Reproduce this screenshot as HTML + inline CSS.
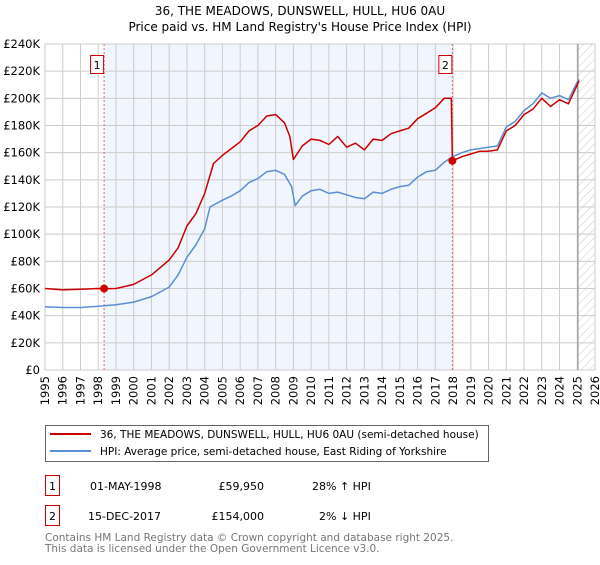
<!DOCTYPE html>
<html><head><meta charset="utf-8"><style>
body{margin:0;background:#fff;font-family:"Liberation Sans","DejaVu Sans",sans-serif}
svg text{font-family:"DejaVu Sans","Liberation Sans",sans-serif}
</style></head><body>
<svg id="chart" width="600" height="560" xmlns="http://www.w3.org/2000/svg">
<defs><pattern id="hatch" width="6" height="6" patternUnits="userSpaceOnUse" patternTransform="rotate(45)"><line x1="0" y1="0" x2="0" y2="6" stroke="#ccc" stroke-width="1"/></pattern></defs>
<text x="300" y="15" text-anchor="middle" font-size="12">36, THE MEADOWS, DUNSWELL, HULL, HU6 0AU</text>
<text x="300" y="31" text-anchor="middle" font-size="12">Price paid vs. HM Land Registry's House Price Index (HPI)</text>
<g id="plot"></g>
<g>
<rect x="45.5" y="425.5" width="443" height="36" fill="#fff" stroke="#666"/>
<line x1="50" y1="434" x2="91" y2="434" stroke="#cc0000" stroke-width="2"/>
<text x="100" y="438" font-size="10.5">36, THE MEADOWS, DUNSWELL, HULL, HU6 0AU (semi-detached house)</text>
<line x1="50" y1="451" x2="91" y2="451" stroke="#5b8fd4" stroke-width="2"/>
<text x="100" y="455" font-size="10.5">HPI: Average price, semi-detached house, East Riding of Yorkshire</text>
</g>
<g font-size="11">
<rect x="45.5" y="475.5" width="14" height="20" fill="#fff" stroke="#cc0000"/>
<text x="52.5" y="490" text-anchor="middle">1</text>
<text x="90" y="490">01-MAY-1998</text>
<text x="264" y="490" text-anchor="end">£59,950</text>
<text x="312" y="490">28% ↑ HPI</text>
</g>
<g font-size="11">
<rect x="45.5" y="505.5" width="14" height="20" fill="#fff" stroke="#cc0000"/>
<text x="52.5" y="520" text-anchor="middle">2</text>
<text x="88" y="520">15-DEC-2017</text>
<text x="264" y="520" text-anchor="end">£154,000</text>
<text x="319" y="520">2% ↓ HPI</text>
</g>
<text x="45" y="541" font-size="10.5" fill="#777">Contains HM Land Registry data © Crown copyright and database right 2025.</text>
<text x="45" y="552" font-size="10.5" fill="#777">This data is licensed under the Open Government Licence v3.0.</text>
</svg>
<script>
const hpiYears=[1995,1996,1997,1998,1999,2000,2001,2002,2002.5,2003,2003.5,2004,2004.3,2005,2005.5,2006,2006.5,2007,2007.5,2008,2008.5,2008.9,2009.1,2009.5,2010,2010.5,2011,2011.5,2012,2012.5,2013,2013.5,2014,2014.5,2015,2015.5,2016,2016.5,2017,2017.5,2017.96,2018.5,2019,2019.5,2020,2020.5,2021,2021.5,2022,2022.5,2023,2023.5,2024,2024.5,2025,2025.1];
const hpiValues=[46.6,46,46,47,48,50,54,61,70,83,92,104,120,125,128,132,138,141,146,147,144,135,121,128,132,133,130,131,129,127,126,131,130,133,135,136,142,146,147,153,157,160,162,163,164,165,179,183,191,196,204,200,202,199,212,214];
const priceYears=[1995,1996,1997,1998,1998.33,1999,2000,2001,2002,2002.5,2003,2003.5,2004,2004.5,2005,2005.5,2006,2006.5,2007,2007.5,2008,2008.5,2008.8,2009,2009.5,2010,2010.5,2011,2011.5,2012,2012.5,2013,2013.5,2014,2014.5,2015,2015.5,2016,2016.5,2017,2017.5,2017.9,2017.96,2018.5,2019,2019.5,2020,2020.5,2021,2021.5,2022,2022.5,2023,2023.5,2024,2024.5,2025,2025.1];
const priceValues=[60,59,59.5,60,59.95,60,63,70,81,90,106,115,130,152,158,163,168,176,180,187,188,182,172,155,165,170,169,166,172,164,167,162,170,169,174,176,178,185,189,193,200,200,154,157,159,161,161,162,176,180,188,192,200,194,199,196,210,213];
const yTicks=[0,20,40,60,80,100,120,140,160,180,200,220,240];
const xTicks=[1995,1996,1997,1998,1999,2000,2001,2002,2003,2004,2005,2006,2007,2008,2009,2010,2011,2012,2013,2014,2015,2016,2017,2018,2019,2020,2021,2022,2023,2024,2025,2026];
const sales=[[1998.33,59.95,'1'],[2017.96,154,'2']];
const X0=45,X1=595,Y0=370,Y1=44;
const xs=y=>X0+(y-1995)/(2026-1995)*(X1-X0);
const ys=v=>Y0-v/240*(Y0-Y1);
const NS='http://www.w3.org/2000/svg';
const g=document.getElementById('plot');
function mk(t,a,p){const e=document.createElementNS(NS,t);for(const k in a)e.setAttribute(k,a[k]);(p||g).appendChild(e);return e;}
let bg=mk('rect',{x:xs(1998.33),y:Y1,width:xs(2017.96)-xs(1998.33),height:Y0-Y1,fill:'#eef3fd',opacity:0.8});


let hz=mk('rect',{x:xs(2025.04),y:Y1,width:X1-xs(2025.04),height:Y0-Y1,fill:'url(#hatch)'});


yTicks.forEach(v=>{
 let l=mk('line',{x1:X0,x2:X1,y1:ys(v),y2:ys(v),stroke:'#ccc'});
 
 
 let t=mk('text',{x:X0-5,y:ys(v)+4,'text-anchor':'end','font-size':11.5});
 
 
 t.textContent='£'+v+(v?'K':'');
});
xTicks.forEach(yr=>{
 let l=mk('line',{x1:xs(yr),x2:xs(yr),y1:Y1,y2:Y0,stroke:'#ccc'});
 
 
 let t=mk('text',{x:xs(yr)+4,y:Y0+6,'text-anchor':'end','font-size':11.5,transform:'rotate(-90 '+(xs(yr)+4)+' '+(Y0+6)+')'});
 
 
 t.textContent=yr;
});
let bd=mk('rect',{x:X0,y:Y1,width:X1-X0,height:Y0-Y1,fill:'none',stroke:'#ccc'});


let nl=mk('line',{x1:xs(2025.04),x2:xs(2025.04),y1:Y1,y2:Y0,stroke:'#888','stroke-width':1});


sales.forEach(s=>{
 let l=mk('line',{x1:xs(s[0]),x2:xs(s[0]),y1:Y1,y2:Y0,stroke:'#e06666','stroke-dasharray':'2,2'});
 
 
});
function path(xa,va,col,name){
 let d=xa.map((x,i)=>(i?'L':'M')+xs(x).toFixed(1)+' '+ys(va[i]).toFixed(1)).join(' ');
 let p=mk('path',{d:d,fill:'none',stroke:col,'stroke-width':1.5,'stroke-linejoin':'round'});
 
 
}
path(hpiYears,hpiValues,'#5b8fd4','hpi-line');
path(priceYears,priceValues,'#cc0000','price-line');
sales.forEach(s=>{
 let c=mk('circle',{cx:xs(s[0]),cy:ys(s[1]),r:4,fill:'#cc0000'});
 
 
 let bx=xs(s[0])-14;
 let r=mk('rect',{x:bx+0.5,y:55.5,width:13,height:18,fill:'#fff',stroke:'#cc0000'});
 
 
 let t=mk('text',{x:bx+7,y:69,'text-anchor':'middle','font-size':11});
 
 
 t.textContent=s[2];
});
</script>
</body></html>
